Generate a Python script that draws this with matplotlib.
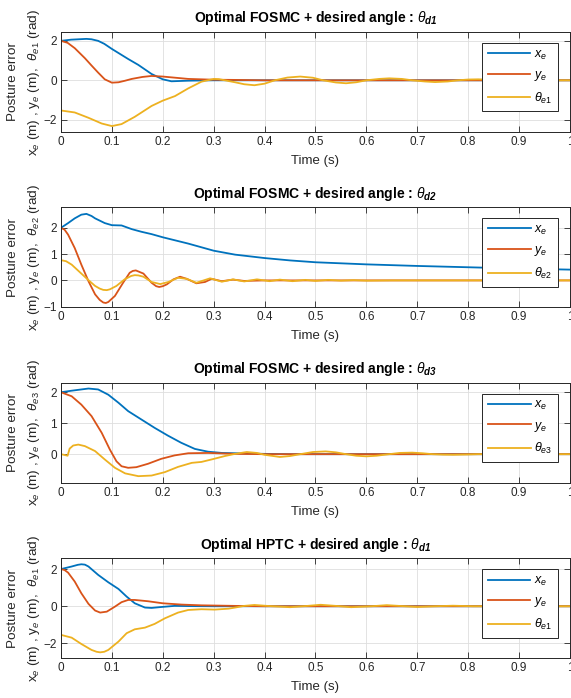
import numpy as np
import matplotlib
matplotlib.use("Agg")
import matplotlib.pyplot as plt

plt.rcParams['font.family'] = ['Liberation Sans', 'DejaVu Sans']
plt.rcParams['mathtext.fontset'] = 'custom'
plt.rcParams['mathtext.rm'] = 'Liberation Sans'
plt.rcParams['mathtext.it'] = 'Liberation Sans:italic'
plt.rcParams['mathtext.bf'] = 'Liberation Sans:bold'
plt.rcParams['mathtext.bfit'] = 'Liberation Sans:italic:bold'

## data (time in s, errors in m / rad)
# panel 1 : Optimal FOSMC, theta_d1
t_xe1 = [0, 0.02, 0.05, 0.06, 0.073, 0.085, 0.1, 0.132, 0.152, 0.178, 0.2, 0.217, 0.25, 0.3, 0.4, 1.0]
xe1 = [2.0, 2.06, 2.1, 2.08, 2.0, 1.85, 1.59, 1.08, 0.78, 0.32, 0.05, -0.05, -0.02, 0.0, 0.0, 0.0]
t_ye1 = [0, 0.013, 0.027, 0.047, 0.06, 0.073, 0.086, 0.1, 0.113, 0.126, 0.139, 0.16, 0.178, 0.2, 0.25, 0.3, 0.342, 0.4, 1.0]
ye1 = [2.0, 1.9, 1.63, 1.12, 0.75, 0.39, 0.05, -0.12, -0.1, -0.02, 0.07, 0.17, 0.22, 0.19, 0.07, 0.03, 0.02, 0.0, 0.0]
t_th1 = [0, 0.027, 0.054, 0.08, 0.1, 0.119, 0.145, 0.178, 0.2, 0.224, 0.25, 0.276, 0.3, 0.31, 0.322,
         0.342, 0.36, 0.38, 0.40, 0.42, 0.445, 0.47, 0.495, 0.515, 0.54, 0.56, 0.58, 0.6, 0.625, 0.645,
         0.67, 0.69, 0.715, 0.735, 0.76, 0.78, 0.8, 0.82, 0.84, 0.86, 0.9, 0.94, 1.0]
th1 = [-1.53, -1.63, -1.9, -2.19, -2.32, -2.22, -1.85, -1.3, -1.03, -0.8, -0.41, -0.07, 0.07, 0.06, 0.0,
       -0.1, -0.2, -0.25, -0.17, 0.0, 0.14, 0.19, 0.13, 0.0, -0.11, -0.15, -0.1, 0.0, 0.07, 0.1,
       0.07, 0.0, -0.06, -0.09, -0.06, 0.0, 0.04, 0.05, 0.03, 0.0, -0.02, 0.0, 0.0]

# panel 2 : Optimal FOSMC, theta_d2
t_xe2 = [0, 0.014, 0.027, 0.04, 0.05, 0.06, 0.067, 0.086, 0.1, 0.119, 0.139, 0.158, 0.178, 0.2, 0.25,
         0.3, 0.342, 0.4, 0.45, 0.5, 0.6, 0.7, 0.8, 0.9, 1.0]
xe2 = [2.0, 2.18, 2.36, 2.5, 2.53, 2.45, 2.36, 2.18, 2.1, 2.09, 1.95, 1.85, 1.76, 1.64, 1.4,
       1.13, 0.98, 0.85, 0.76, 0.69, 0.61, 0.55, 0.5, 0.45, 0.41]
t_ye2 = [0, 0.007, 0.014, 0.027, 0.04, 0.054, 0.067, 0.076, 0.083, 0.088, 0.093, 0.106, 0.122, 0.135,
         0.141, 0.147, 0.162, 0.178, 0.187, 0.193, 0.2, 0.208, 0.221, 0.234, 0.247, 0.266, 0.283,
         0.296, 0.316, 0.338, 0.36, 0.4, 1.0]
ye2 = [2.0, 1.93, 1.74, 1.23, 0.6, -0.03, -0.53, -0.74, -0.84, -0.86, -0.82, -0.59, -0.09, 0.29,
       0.36, 0.38, 0.26, -0.09, -0.22, -0.25, -0.22, -0.15, 0.04, 0.14, 0.06, -0.11, -0.06,
       0.06, -0.03, 0.03, -0.02, 0.0, 0.0]
t_th2 = [0, 0.01, 0.021, 0.04, 0.054, 0.067, 0.076, 0.083, 0.09, 0.096, 0.109, 0.125, 0.138, 0.145,
         0.152, 0.162, 0.178, 0.195, 0.211, 0.23, 0.247, 0.266, 0.293, 0.316, 0.338, 0.36, 0.385,
         0.41, 0.43, 0.455, 0.48, 0.5, 0.525, 0.55, 0.575, 0.6, 0.65, 1.0]
th2 = [0.77, 0.73, 0.6, 0.26, 0.01, -0.21, -0.31, -0.36, -0.37, -0.34, -0.21, 0.04, 0.17, 0.2,
       0.19, 0.14, -0.06, -0.14, -0.06, 0.1, 0.06, -0.09, 0.08, -0.05, 0.04, -0.04, 0.04,
       -0.03, 0.03, -0.03, 0.02, -0.02, 0.02, -0.01, 0.01, -0.01, 0.0, 0.0]

# panel 3 : Optimal FOSMC, theta_d3
t_xe3 = [0, 0.021, 0.054, 0.073, 0.093, 0.113, 0.132, 0.158, 0.184, 0.21, 0.236, 0.263, 0.289, 0.316,
         0.342, 0.4, 0.45, 1.0]
xe3 = [2.0, 2.05, 2.12, 2.09, 1.92, 1.66, 1.39, 1.12, 0.85, 0.6, 0.37, 0.17, 0.08, 0.04,
       0.03, 0.01, 0.0, 0.0]
t_ye3 = [0, 0.021, 0.04, 0.06, 0.08, 0.096, 0.109, 0.119, 0.132, 0.148, 0.171, 0.197, 0.223, 0.25,
         0.289, 0.342, 0.4, 1.0]
ye3 = [2.0, 1.87, 1.6, 1.23, 0.69, 0.15, -0.23, -0.39, -0.44, -0.42, -0.31, -0.15, -0.04, 0.03,
       0.04, 0.01, 0.0, 0.0]
t_th3 = [0, 0.008, 0.013, 0.017, 0.024, 0.034, 0.047, 0.067, 0.086, 0.106, 0.126, 0.152, 0.178, 0.204,
         0.23, 0.257, 0.276, 0.296, 0.322, 0.342, 0.365, 0.385, 0.4, 0.43, 0.45, 0.47, 0.495, 0.52,
         0.54, 0.56, 0.58, 0.6, 0.62, 0.645, 0.665, 0.69, 0.71, 0.73, 0.75, 0.77, 0.8, 0.82, 1.0]
th3 = [0.0, -0.03, -0.05, 0.18, 0.28, 0.31, 0.26, 0.1, -0.17, -0.44, -0.62, -0.71, -0.69, -0.58,
       -0.41, -0.28, -0.25, -0.17, -0.06, 0.01, 0.07, 0.04, -0.02, -0.09, -0.06, 0.0, 0.07, 0.09,
       0.06, 0.0, -0.05, -0.07, -0.05, 0.0, 0.04, 0.05, 0.03, 0.0, -0.015, -0.02, -0.01, 0.0, 0.0]

# panel 4 : Optimal HPTC, theta_d1
t_xe4 = [0, 0.021, 0.033, 0.04, 0.047, 0.054, 0.073, 0.093, 0.113, 0.129, 0.145, 0.165, 0.178, 0.197,
         0.223, 0.25, 0.3, 1.0]
xe4 = [2.0, 2.14, 2.23, 2.26, 2.24, 2.14, 1.69, 1.29, 0.93, 0.52, 0.16, -0.07, -0.09, -0.04,
       0.02, 0.01, 0.0, 0.0]
t_ye4 = [0, 0.007, 0.014, 0.027, 0.04, 0.054, 0.067, 0.077, 0.09, 0.106, 0.119, 0.132, 0.145, 0.171,
         0.2, 0.237, 0.276, 0.342, 0.4, 1.0]
ye4 = [2.0, 1.95, 1.81, 1.33, 0.7, 0.13, -0.23, -0.34, -0.29, -0.02, 0.22, 0.34, 0.34, 0.27,
       0.16, 0.09, 0.05, 0.02, 0.0, 0.0]
t_th4 = [0, 0.021, 0.04, 0.06, 0.07, 0.077, 0.085, 0.093, 0.113, 0.129, 0.145, 0.165, 0.184, 0.204,
         0.23, 0.25, 0.276, 0.302, 0.329, 0.342, 0.36, 0.38, 0.41, 0.45, 0.48, 0.51, 0.54, 0.57,
         0.61, 0.64, 0.67, 0.7, 0.735, 0.77, 0.81, 0.85, 1.0]
th4 = [-1.54, -1.69, -2.03, -2.35, -2.45, -2.48, -2.45, -2.35, -1.9, -1.45, -1.24, -1.15, -0.95, -0.65,
       -0.34, -0.2, -0.16, -0.18, -0.13, -0.07, 0.02, 0.07, 0.01, -0.05, 0.01, 0.08, 0.02, -0.05,
       0.0, 0.06, 0.01, -0.04, 0.0, 0.03, 0.0, 0.0, 0.0]

titles = [r'Optimal FOSMC + desired angle : $\theta_{\mathbfit{d1}}$',
          r'Optimal FOSMC + desired angle : $\theta_{\mathbfit{d2}}$',
          r'Optimal FOSMC + desired angle : $\theta_{\mathbfit{d3}}$',
          r'Optimal HPTC + desired angle : $\theta_{\mathbfit{d1}}$']
theta_names = ['e1', 'e2', 'e3', 'e1']
ylims = [(-2.62, 2.45), (-1.0, 2.78), (-0.92, 2.31), (-2.77, 2.58)]
yticks = [[-2, 0, 2], [-1, 0, 1, 2], [0, 1, 2], [-2, 0, 2]]
xticks = [0, 0.1, 0.2, 0.3, 0.4, 0.5, 0.6, 0.7, 0.8, 0.9, 1]
xticklabels = ['0', '0.1', '0.2', '0.3', '0.4', '0.5', '0.6', '0.7', '0.8', '0.9', '1']

panels = [(t_xe1, xe1, t_ye1, ye1, t_th1, th1),
          (t_xe2, xe2, t_ye2, ye2, t_th2, th2),
          (t_xe3, xe3, t_ye3, ye3, t_th3, th3),
          (t_xe4, xe4, t_ye4, ye4, t_th4, th4)]

colors = ['#0072BD', '#D95319', '#EDB120']
axcol = '#262626'

# axes rectangles in figure fraction (left, bottom, width, height)
boxes = [(0.1068, 0.8109, 0.8914, 0.1433),
         (0.1068, 0.5606, 0.8914, 0.1424),
         (0.1068, 0.3085, 0.8914, 0.1433),
         (0.1068, 0.0577, 0.8914, 0.1424)]

fig = plt.figure(figsize=(5.71, 6.98), dpi=100)

for k in range(4):
    ax = fig.add_axes(boxes[k])
    txe, xe, tye, ye, tth, th = panels[k]
    ax.plot(txe, xe, color=colors[0], lw=1.3, label=r'$x_e$')
    ax.plot(tye, ye, color=colors[1], lw=1.3, label=r'$y_e$')
    ax.plot(tth, th, color=colors[2], lw=1.3, label=r'$\theta_{%s}$' % theta_names[k])

    ax.set_xlim(0, 1)
    ax.set_ylim(*ylims[k])
    ax.set_xticks(xticks)
    ax.set_xticklabels(xticklabels)
    ax.set_yticks(yticks[k])
    ax.grid(True, color='#dedede', lw=0.6)
    ax.set_axisbelow(True)
    ax.tick_params(direction='in', top=True, right=True, length=4, width=0.6,
                   colors=axcol, labelsize=8.5, pad=3)
    for sp in ax.spines.values():
        sp.set_color(axcol)
        sp.set_linewidth(0.7)

    ax.set_title(titles[k], fontsize=10, fontweight='bold', pad=7, color='black')
    ax.set_xlabel('Time (s)', fontsize=9.5, color=axcol, labelpad=5)
    ax.text(-0.0943, 0.5, 'Posture error', transform=ax.transAxes, rotation=90,
            ha='center', va='center', fontsize=9.7, color=axcol)
    ax.text(-0.053, 0.5, r'x$_e$ (m) , y$_e$ (m),  $\theta_{%s}$ (rad)' % theta_names[k],
            transform=ax.transAxes, rotation=90, ha='center', va='center',
            fontsize=9.7, color=axcol)

    leg = ax.legend(loc='upper right', bbox_to_anchor=(0.9764, 0.89), borderaxespad=0,
                    fontsize=9, handlelength=3.4, handletextpad=0.3, borderpad=0.45,
                    labelspacing=0.6, fancybox=False, framealpha=1)
    leg.get_frame().set_edgecolor(axcol)
    leg.get_frame().set_linewidth(0.7)

fig.savefig('out.png', dpi=100)
